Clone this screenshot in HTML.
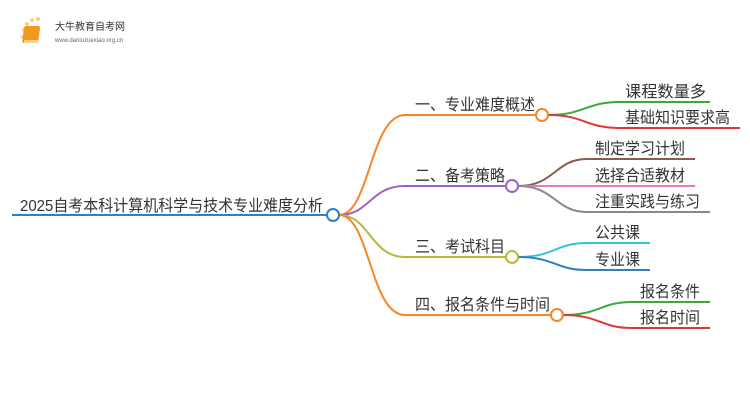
<!DOCTYPE html>
<html><head><meta charset="utf-8"><style>
html,body{margin:0;padding:0;background:#fff;width:750px;height:410px;overflow:hidden}
text{font-family:"Liberation Sans","Noto Sans CJK SC",sans-serif;fill:#333;font-size:16px}
</style></head><body>
<svg width="750" height="410" viewBox="0 0 750 410" xmlns="http://www.w3.org/2000/svg">
<!-- logo -->
<g>
<circle cx="24" cy="30" r="2" fill="#f8d27a"/><circle cx="27" cy="24" r="2" fill="#f8d27a"/><circle cx="32" cy="20" r="2" fill="#f8d27a"/><circle cx="38" cy="19" r="2" fill="#f8d27a"/><circle cx="22" cy="37" r="1.5" fill="#f8d27a"/>
<rect x="28" y="26" width="16" height="17" rx="2" fill="#f39a1e" transform="skewX(-8)"/>
<rect x="30" y="40" width="14" height="3" fill="#fbd28a" transform="skewX(-8)"/>
<text x="55" y="30" style="font-size:10px;fill:#333">大牛教育自考网</text>
<text x="55" y="42" style="font-size:6px;fill:#666">www.daniuzuexiao.org.cn</text>
</g>
<g fill="none" stroke-width="2">
<!-- root -->
<path d="M12 215 H327" stroke="#2f7fc1"/>
<!-- branch connectors -->
<path d="M339 215 C370 215,370 115,405 115 H537" stroke="#f5862a"/>
<path d="M339 215 C370 215,370 186,405 186 H507" stroke="#9d62c9"/>
<path d="M339 215 C370 215,370 257,405 257 H507" stroke="#b8b83a"/>
<path d="M339 215 C370 215,370 315,405 315 H552" stroke="#f5862a"/>
<!-- leaves b1 -->
<path d="M548 115 C585 115,585 102,620 102 H710" stroke="#3aab3a"/>
<path d="M548 115 C585 115,585 128,620 128 H740" stroke="#d93a3a"/>
<!-- b2 -->
<path d="M518 186 C555 186,555 159,587 159 H695" stroke="#8d5a4f"/>
<path d="M518 186 H695" stroke="#e678c8"/>
<path d="M518 186 C555 186,555 212,587 212 H710" stroke="#888"/>
<!-- b3 -->
<path d="M518 257 C555 257,555 243,587 243 H650" stroke="#2ec4dc"/>
<path d="M518 257 C555 257,555 270,587 270 H650" stroke="#2f7fc1"/>
<!-- b4 -->
<path d="M563 315 C600 315,600 302,632 302 H710" stroke="#3aab3a"/>
<path d="M563 315 C600 315,600 328,632 328 H710" stroke="#d93a3a"/>
</g>
<g fill="#fff" stroke-width="2">
<circle cx="333" cy="215" r="6" stroke="#2f7fc1"/>
<circle cx="542" cy="115" r="6" stroke="#f5862a"/>
<circle cx="512" cy="186" r="6" stroke="#9d62c9"/>
<circle cx="512" cy="257" r="6" stroke="#b8b83a"/>
<circle cx="557" cy="315" r="6" stroke="#f5862a"/>
</g>
<text x="20" y="211" textLength="303" lengthAdjust="spacingAndGlyphs">2025自考本科计算机科学与技术专业难度分析</text>
<text x="415" y="110" textLength="120" lengthAdjust="spacingAndGlyphs">一、专业难度概述</text>
<text x="415" y="181" textLength="90" lengthAdjust="spacingAndGlyphs">二、备考策略</text>
<text x="415" y="252" textLength="90" lengthAdjust="spacingAndGlyphs">三、考试科目</text>
<text x="415" y="310" textLength="135" lengthAdjust="spacingAndGlyphs">四、报名条件与时间</text>
<text x="625" y="97" textLength="81" lengthAdjust="spacingAndGlyphs">课程数量多</text>
<text x="625" y="123" textLength="105" lengthAdjust="spacingAndGlyphs">基础知识要求高</text>
<text x="595" y="154" textLength="90" lengthAdjust="spacingAndGlyphs">制定学习计划</text>
<text x="595" y="181" textLength="90" lengthAdjust="spacingAndGlyphs">选择合适教材</text>
<text x="595" y="207" textLength="105" lengthAdjust="spacingAndGlyphs">注重实践与练习</text>
<text x="595" y="238" textLength="45" lengthAdjust="spacingAndGlyphs">公共课</text>
<text x="595" y="265" textLength="45" lengthAdjust="spacingAndGlyphs">专业课</text>
<text x="640" y="297" textLength="60" lengthAdjust="spacingAndGlyphs">报名条件</text>
<text x="640" y="323" textLength="60" lengthAdjust="spacingAndGlyphs">报名时间</text>
</svg>
</body></html>
